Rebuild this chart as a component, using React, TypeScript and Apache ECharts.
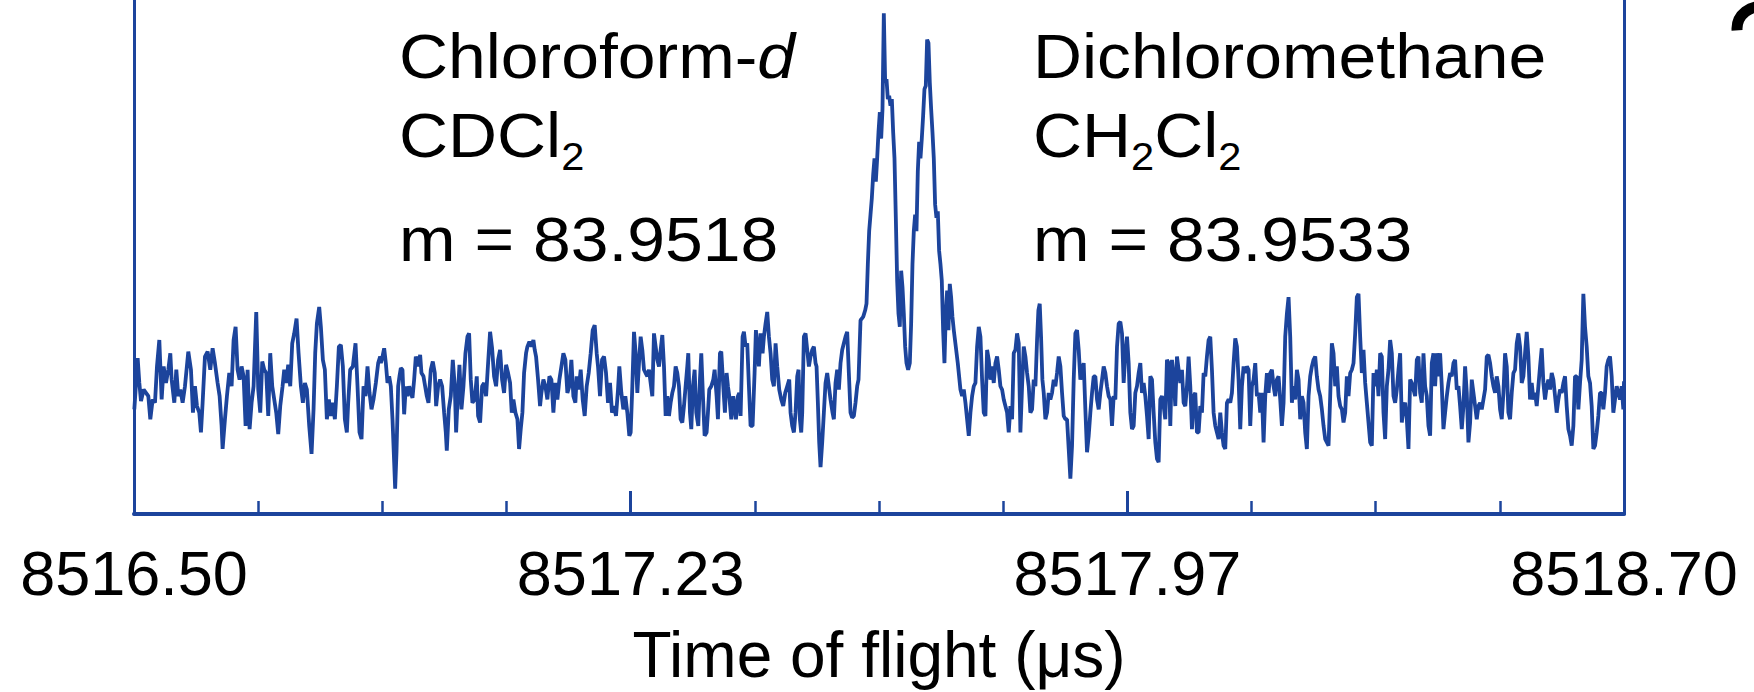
import React, { useEffect, useRef } from "react";
import * as echarts from "echarts";

// Time-of-flight axis: bin (channel) index -> tick labels in microseconds
const tickLabels = ["8516.50", "8517.23", "8517.97", "8518.70"];
const channelMax = 4473;
const channelsPerLabel = 1491;
const axisTitle = "Time of flight (\u03bcs)";

// Intensity (arbitrary units) per channel
const noiseLeftA: [number, number][] = [
  [1,317],[11,472],[16,397],[21,342],[29,377],[36,367],[43,357],[49,287],[56,347],[63,337],[69,447],[76,527],[83,347],[89,447],[96,397],[103,437],[109,487],[113,407],[121,337],[127,437],[133,357],[139,377],[146,337],[153,387],[163,492],[171,437],[177,307],[183,387],[189,327],[196,307],[201,247],[206,337],[213,477],[221,492],[229,437],[236,502],[243,457],[251,397],[257,357],[263,267],[266,197],[273,287],[279,357],[286,427],[293,387],[299,527],[305,567],[311,437],[317,407],[323,447],[329,417],[335,267],[341,437],[347,257],[353,337],[359,387],[367,612],[373,377],[379,307],[385,462],[391,437],[397,427],[403,297],[409,487],[415,387],[421,347],[427,307],[433,242],[439,327],[446,387],[451,437],[457,397],[463,452],[469,387],[475,517],[481,547],[488,592],[494,487],[501,387],[507,337],[513,397],[519,377],[526,267],[533,182],[539,317],[544,487],[549,577],[556,627],[561,567],[567,467],[573,437],[579,287],[585,347],[591,297],[597,337],[603,287],[609,387],[615,507],[621,512],[627,447],[633,287],[639,247],[643,337],[649,437],[657,447],[665,517],[671,387],[677,247],[683,227],[689,387],[695,357],[701,447],[707,367],[713,317],[719,347],[726,397],[733,457],[739,477]
];
const noiseLeftB: [number, number][] = [
  [741,457],[746,477],[751,502],[756,457],[761,397],[766,417],[771,387],[776,287],[781,157],[784,77],[788,187],[793,387],[797,417],[801,442],[806,437],[811,302],[816,387],[821,357],[826,387],[831,367],[836,352],[841,407],[846,477],[853,447],[859,482],[863,427],[869,417],[874,387],[879,357],[884,337],[891,437],[897,462],[903,427],[907,327],[913,387],[919,407],[925,387],[931,307],[936,247],[939,192],[945,317],[951,357],[957,467],[963,387],[967,247],[971,337],[977,452],[983,317],[989,387],[995,487],[1001,537],[1006,547],[1011,407],[1016,337],[1023,347],[1029,417],[1033,297],[1039,277],[1045,387],[1051,397],[1057,357],[1063,457],[1069,552],[1075,502],[1081,417],[1087,387],[1093,467],[1099,497],[1105,407],[1111,367],[1117,452],[1123,427],[1129,397],[1134,307],[1139,347],[1145,307],[1151,287],[1156,197],[1161,257],[1166,307],[1171,427],[1177,487],[1181,507],[1187,522],[1193,507],[1199,527],[1203,497],[1207,477],[1213,407],[1219,327],[1223,367],[1229,407],[1235,387],[1241,347],[1247,417],[1253,407],[1259,307],[1265,397],[1271,347],[1277,407],[1283,447],[1289,487],[1295,467],[1301,367],[1307,387],[1313,467],[1319,357],[1325,337],[1329,417],[1335,377],[1341,437],[1347,347],[1353,297],[1359,387],[1365,427],[1371,487],[1377,557],[1383,572],[1389,487],[1393,447],[1399,357],[1405,467],[1411,477],[1417,427],[1423,337],[1429,397],[1435,307],[1441,327],[1447,297],[1453,377],[1457,447],[1463,367],[1469,317],[1475,357],[1481,307],[1487,237]
];
const noiseLeftC: [number, number][] = [
  [1491,247],[1496,387],[1501,552],[1506,487],[1511,367],[1516,457],[1521,537],[1526,497],[1531,437],[1536,427],[1541,417],[1546,437],[1551,397],[1556,357],[1561,547],[1566,507],[1571,467],[1576,447],[1581,497],[1586,542],[1591,447],[1596,297],[1601,357],[1606,297],[1611,337],[1616,367],[1621,387],[1626,447],[1631,427],[1636,387],[1641,287],[1646,277],[1651,327],[1656,387],[1661,447],[1664,487],[1669,307],[1673,257],[1678,387],[1683,437],[1688,307],[1694,267],[1699,407],[1703,487],[1708,357],[1713,237],[1719,247],[1723,307],[1727,377],[1733,387],[1739,407],[1743,437],[1749,357],[1753,287],[1759,487],[1763,492],[1769,387],[1774,307],[1779,427],[1783,387],[1787,357],[1793,287],[1799,357],[1803,327],[1807,287],[1813,357],[1817,367],[1821,297],[1827,537],[1831,552],[1836,507],[1841,517],[1846,387],[1851,267],[1857,267],[1863,427],[1867,557],[1871,507],[1876,447],[1881,547],[1887,487],[1891,537],[1896,577],[1901,612],[1906,537],[1911,487],[1916,407],[1921,387],[1926,517],[1931,447],[1937,377],[1943,347],[1949,327],[1955,367],[1961,387],[1967,407],[1971,307],[1976,267],[1981,247],[1986,307],[1991,417],[1995,437],[1999,287],[2003,247],[2006,307],[2011,537],[2016,547],[2021,497],[2026,447],[2031,477],[2036,497],[2041,507],[2046,457],[2049,447],[2053,337],[2057,217],[2061,142],[2066,217],[2071,307],[2076,397],[2081,427],[2086,387],[2091,347],[2097,307],[2101,287],[2106,397],[2111,437],[2116,377],[2121,457],[2126,497],[2131,517],[2136,537],[2141,552],[2146,427],[2151,307],[2156,292],[2161,297],[2166,337],[2171,387],[2175,407],[2181,587]
];
const doubletPeak: [number, number][] = [
  [2189,597],[2195,617],[2199,637],[2203,757],[2207,857],[2211,907],[2215,957],[2219,1027],[2223,1077],[2227,1007],[2231,1077],[2235,1157],[2239,1217],[2243,1137],[2247,1227],[2251,1517],[2255,1307],[2259,1317],[2263,1257],[2267,1267],[2271,1237],[2275,1257],[2279,1157],[2283,1077],[2287,897],[2291,707],[2295,607],[2299,567],[2303,737],[2307,687],[2311,607],[2315,507],[2319,457],[2324,437],[2329,457],[2333,577],[2337,757],[2341,857],[2345,907],[2349,857],[2353,1037],[2357,1127],[2361,1077],[2365,1137],[2369,1207],[2373,1287],[2377,1297],[2381,1437],[2385,1427],[2389,1307],[2393,1227],[2397,1157],[2401,1077],[2405,937],[2409,897],[2413,917],[2417,797],[2421,757],[2425,707],[2429,557],[2433,457],[2437,607],[2441,677],[2445,557],[2449,697],[2453,657],[2457,597],[2461,557],[2467,507],[2473,457]
];
const noiseRightA: [number, number][] = [
  [2481,377],[2486,357],[2491,377],[2496,337],[2501,287],[2506,237],[2511,307],[2516,357],[2521,387],[2526,397],[2531,507],[2536,567],[2541,537],[2546,407],[2551,307],[2556,297],[2561,497],[2566,467],[2571,407],[2576,447],[2581,397],[2586,457],[2591,477],[2596,437],[2601,387],[2606,377],[2611,347],[2616,327],[2621,307],[2626,247],[2631,327],[2636,287],[2641,487],[2646,497],[2651,547],[2656,517],[2661,247],[2666,387],[2671,507],[2676,477],[2681,427],[2686,387],[2691,307],[2696,317],[2701,407],[2706,387],[2711,527],[2715,617],[2719,637],[2723,537],[2727,407],[2731,367],[2736,287],[2741,307],[2746,367],[2751,347],[2756,367],[2761,407],[2766,387],[2771,427],[2776,477],[2781,447],[2786,367],[2791,297],[2796,287],[2801,287],[2806,197],[2811,107],[2816,207],[2821,407],[2826,547],[2831,557],[2836,497],[2841,407],[2846,437],[2851,457],[2856,317],[2861,187],[2866,237],[2871,307],[2876,367],[2881,417],[2886,417],[2891,347],[2896,317],[2901,367],[2906,407],[2911,447],[2916,427],[2921,387],[2926,357],[2931,347],[2936,267],[2941,357],[2946,347],[2951,507],[2956,577],[2961,582],[2966,547],[2971,397],[2976,487],[2981,537],[2986,457],[2991,307],[2996,257],[3001,267],[3006,367],[3011,387],[3016,427],[3021,457],[3026,367],[3031,397],[3036,357],[3041,297],[3046,227],[3051,417],[3056,407],[3061,307],[3066,217],[3071,167],[3076,157],[3081,347],[3086,357],[3091,327],[3096,287],[3101,467],[3106,457],[3111,267],[3116,467],[3121,417],[3126,327],[3131,477],[3136,437],[3141,397],[3146,437],[3151,337],[3156,327],[3161,387],[3166,477],[3171,387],[3176,257],[3181,357],[3186,367],[3191,247],[3196,247],[3201,327],[3206,307],[3211,427],[3216,417],[3221,477],[3226,527]
];
const noiseRightB: [number, number][] = [
  [3231,537],[3236,437],[3241,307],[3246,267],[3251,247],[3256,227],[3261,307],[3266,247],[3271,207],[3276,197],[3281,337],[3286,347],[3291,337],[3296,367],[3301,457],[3306,532],[3311,507],[3316,407],[3321,257],[3326,387],[3331,447],[3336,427],[3341,447],[3346,437],[3351,267],[3356,387],[3361,407],[3366,457],[3371,357],[3376,367],[3381,307],[3386,367],[3391,217],[3396,357],[3401,427],[3406,367],[3411,427],[3416,437],[3421,387],[3426,357],[3431,407],[3436,417],[3441,347],[3446,267],[3451,337],[3456,537],[3461,607],[3466,657],[3471,537],[3476,337],[3481,387],[3486,347],[3491,437],[3496,407],[3501,287],[3506,357],[3511,337],[3516,247],[3521,197],[3526,357],[3531,417],[3536,447],[3541,467],[3546,477],[3551,417],[3556,377],[3561,357],[3566,317],[3571,267],[3576,227],[3581,217],[3586,207],[3591,357],[3596,517],[3601,487],[3606,387],[3611,447],[3616,357],[3621,327],[3626,317],[3631,277],[3636,307],[3641,417],[3646,357],[3651,427],[3656,437],[3661,457],[3666,547],[3671,657],[3676,667],[3681,537],[3686,427],[3691,497],[3696,397],[3701,337],[3706,277],[3711,217],[3716,207],[3721,427],[3726,387],[3731,437],[3736,357],[3741,487],[3746,477],[3751,307],[3756,227],[3761,387],[3766,437],[3771,527],[3776,487],[3781,357],[3786,337],[3791,377],[3796,437],[3801,487],[3806,277],[3811,327],[3816,337],[3821,287],[3826,197],[3831,407],[3836,397],[3841,377],[3846,357],[3851,467],[3856,477],[3861,367],[3866,337],[3871,487],[3876,387],[3881,357],[3886,267],[3891,237],[3896,457],[3901,487],[3906,387],[3911,487],[3916,417],[3921,487],[3926,387],[3931,257],[3936,307],[3941,357],[3946,397],[3951,427],[3956,417],[3961,457],[3966,467],[3971,377],[3976,387]
];
const noiseRightC: [number, number][] = [
  [3981,327],[3986,257],[3991,327],[3996,447],[4001,367],[4006,217],[4011,277],[4016,407],[4021,367],[4026,327],[4031,287],[4036,327],[4041,337],[4046,317],[4051,347],[4056,377],[4061,477],[4066,482],[4071,457],[4076,417],[4081,387],[4086,367],[4091,417],[4096,387],[4101,317],[4106,287],[4111,367],[4116,487],[4121,447],[4126,307],[4131,287],[4136,367],[4141,427],[4146,437],[4151,517],[4156,547],[4161,507],[4166,397],[4171,417],[4176,487],[4181,552],[4186,477],[4191,347],[4196,397],[4201,347],[4206,367],[4211,327],[4216,387],[4221,447],[4226,502],[4231,397],[4236,347],[4241,387],[4246,407],[4251,377],[4256,427],[4261,407],[4266,357],[4271,307],[4276,347],[4281,377],[4286,367],[4291,397],[4296,417],[4301,327],[4306,257],[4311,237],[4316,207],[4321,267],[4326,417],[4331,417],[4336,317],[4341,397],[4346,467],[4351,667],[4356,567],[4361,507],[4366,417],[4371,397],[4376,327],[4381,197],[4386,207],[4391,247],[4396,297],[4401,367],[4406,367],[4411,317],[4416,367],[4421,447],[4426,467],[4431,477],[4436,417],[4441,307],[4446,347],[4451,387],[4456,367],[4461,347],[4466,387],[4471,317],[4473,402]
];
const intensityMax = 1557;

// Annotation texts
const leftLabel = ["Chloroform-{i|d}", "CDCl{s|2}", "m = 83.9518"];
const rightLabel = ["Dichloromethane", "CH{s|2}Cl{s|2}", "m = 83.9533"];

const BLUE = "#1c449c";
const FONT = "Liberation Sans, Arial, Helvetica, sans-serif";

export default function App() {
  const ref = useRef<HTMLDivElement>(null);
  useEffect(() => {
    if (!ref.current) return;
    const chart = echarts.init(ref.current, undefined, { renderer: "svg" });
    const data = [
      ...noiseLeftA, ...noiseLeftB, ...noiseLeftC, ...doubletPeak,
      ...noiseRightA, ...noiseRightB, ...noiseRightC,
    ];
    const rich = {
      i: { fontSize: 62, fontFamily: FONT, fontStyle: "italic", lineHeight: 81, fill: "#000" },
      s: { fontSize: 38, fontFamily: FONT, lineHeight: 36, verticalAlign: "bottom", fill: "#000" },
    };
    const tops = [16, 95, 199];
    const mkText = (x: number, lines: string[]) =>
      lines.map((t, k) => ({
        type: "text",
        x,
        y: tops[k],
        scaleX: 1.095,
        silent: true,
        style: {
          text: t,
          fontSize: 62,
          fontFamily: FONT,
          fill: "#000",
          lineHeight: 81,
          verticalAlign: "top",
          align: "left",
          rich,
        },
      }));
    const frameAxis = (position: "left" | "right") => ({
      type: "value",
      position,
      min: 0,
      max: intensityMax,
      axisLine: { show: true, lineStyle: { color: BLUE, width: 3 } },
      axisTick: { show: false },
      axisLabel: { show: false },
      splitLine: { show: false },
    });
    chart.setOption({
      animation: false,
      backgroundColor: "#fff",
      grid: { left: 134, right: 130, top: 0, bottom: 173, show: false },
      xAxis: {
        type: "value",
        min: 0,
        max: channelMax,
        interval: channelsPerLabel,
        axisLine: { show: true, onZero: false, lineStyle: { color: BLUE, width: 4 } },
        axisTick: { show: true, inside: true, length: 23, lineStyle: { color: BLUE, width: 3 } },
        minorTick: { show: true, splitNumber: 4, length: 13, lineStyle: { color: BLUE, width: 2.5 } },
        splitLine: { show: false },
        minorSplitLine: { show: false },
        axisLabel: {
          formatter: (v: number) => tickLabels[Math.round(v / channelsPerLabel)] ?? "",
          fontSize: 63,
          fontFamily: FONT,
          color: "#000",
          margin: 27,
          showMinLabel: true,
          showMaxLabel: true,
        },
        name: axisTitle,
        nameLocation: "middle",
        nameGap: 109,
        nameTextStyle: { fontSize: 64, fontFamily: FONT, color: "#000" },
      },
      yAxis: [frameAxis("left"), frameAxis("right")],
      series: [
        {
          type: "line",
          data,
          yAxisIndex: 0,
          showSymbol: false,
          symbol: "none",
          lineStyle: { color: BLUE, width: 3.8 },
          itemStyle: { color: BLUE },
        },
      ],
      graphic: [
        ...mkText(399, leftLabel),
        ...mkText(1033, rightLabel),
        {
          type: "arc",
          silent: true,
          shape: { cx: 1759, cy: 29, r: 22, startAngle: Math.PI * 0.98, endAngle: Math.PI * 1.6 },
          style: { stroke: "#000", lineWidth: 11, fill: null },
        },
      ],
    });
    return () => chart.dispose();
  }, []);
  return (
    <div
      ref={ref}
      style={{ position: "absolute", left: 0, top: 0, width: 1754, height: 692 }}
    />
  );
}
